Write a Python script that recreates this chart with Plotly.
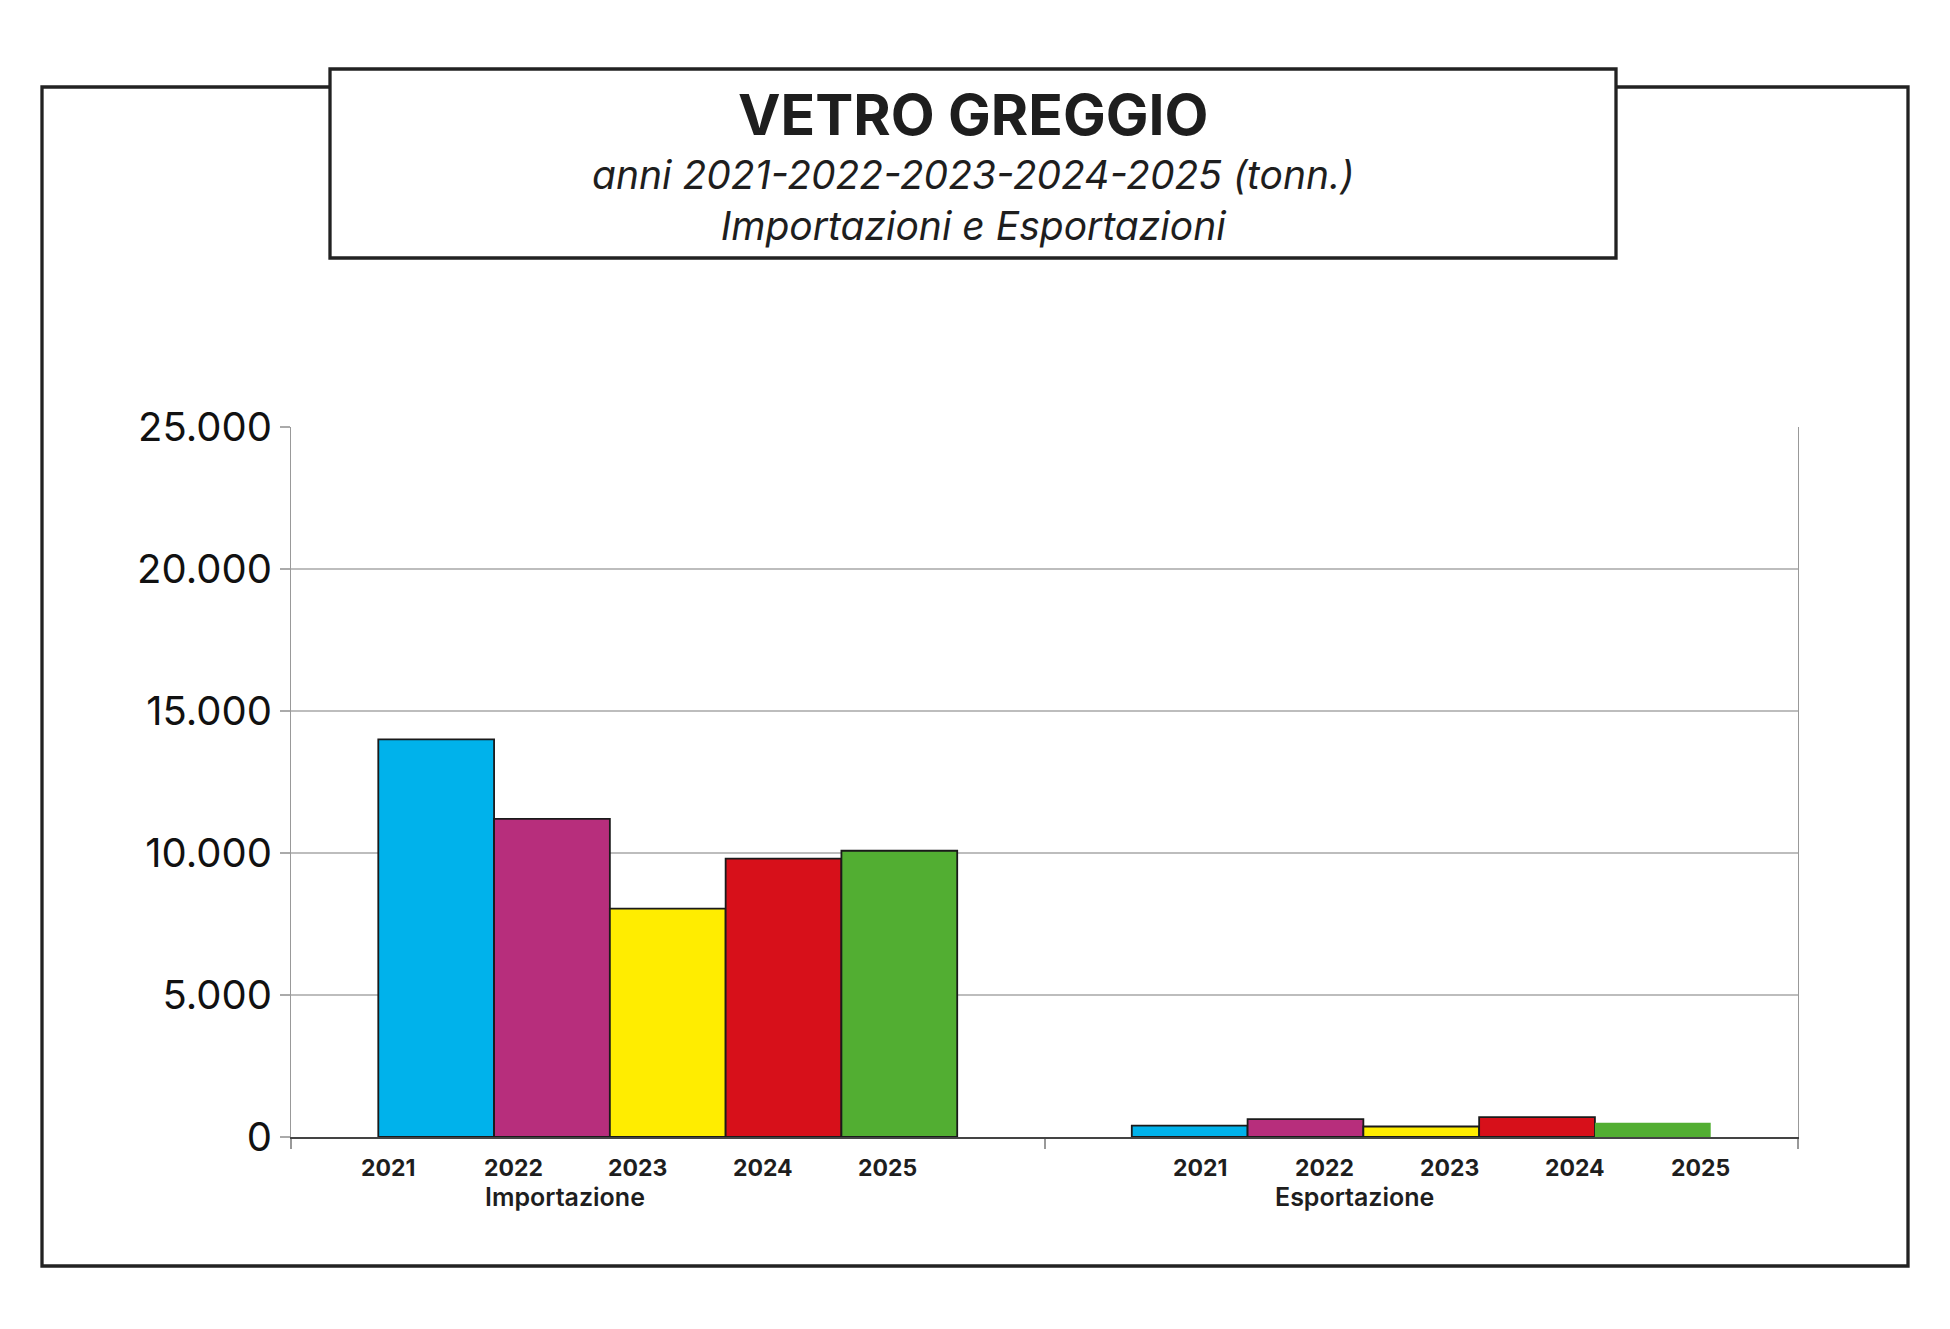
import plotly.graph_objects as go

# ── data ─────────────────────────────────────────────
GROUPS = ["Importazione", "Esportazione"]
YEARS = ["2021", "2022", "2023", "2024", "2025"]
IMPORT_T = [14000, 11200, 8040, 9800, 10080]
EXPORT_T = [400, 630, 370, 700, 500]
Y_TICKS = [0, 5000, 10000, 15000, 20000, 25000]

TITLE = "VETRO GREGGIO"
SUBTITLE = ["anni 2021-2022-2023-2024-2025 (tonn.)", "Importazioni e Esportazioni"]
COLORS = ["#00B2EB", "#B72E7C", "#FFED00", "#D7101A", "#52AE32"]

# ── page geometry (px, measured on the reference) ────
W, H = 1950, 1329
PAGE_OFF = 8          # browser body margin
PLOT_L, PLOT_R, PLOT_T, PLOT_B = 291, 1798, 427, 1137
ML = PLOT_L - PAGE_OFF
MT = PLOT_T - PAGE_OFF
PW = PLOT_R - PLOT_L
PH = PLOT_B - PLOT_T
MR = W - ML - PW
MB = H - MT - PH
FONT = "Inter, Roboto, sans-serif"


def px(x):
    return (x - PLOT_L) / PW


def py(y):
    return (PLOT_B - y) / PH


def label(x, y, text, size, xref="paper", weight=None, italic=False):
    fig.add_annotation(
        xref=xref, yref="paper", x=x, y=y, text=text, showarrow=False,
        xanchor="center", yanchor="middle",
        font=dict(family=FONT, size=size, color="#1e1e1e",
                  weight=weight, style="italic" if italic else "normal"),
    )


fig = go.Figure()

for i, yr in enumerate(YEARS):
    fig.add_trace(go.Bar(
        x=GROUPS,
        y=[IMPORT_T[i], EXPORT_T[i]],
        name=yr,
        marker=dict(
            color=COLORS[i],
            line=dict(color="#1a1a1a", width=[1.8, 0 if yr == "2025" else 1.8]),
        ),
        hovertemplate=f"{yr}<br>%{{x}}: %{{y:,.0f}} t<extra></extra>",
    ))

# outer frame + title box
fig.add_shape(type="rect", xref="paper", yref="paper",
              x0=px(42), x1=px(1908), y0=py(1266), y1=py(87),
              line=dict(color="#222", width=3.3), layer="below")
fig.add_shape(type="rect", xref="paper", yref="paper",
              x0=px(330), x1=px(1616), y0=py(258), y1=py(69),
              line=dict(color="#222", width=3.3), fillcolor="white", layer="below")

label(px(973), py(115), TITLE, 57, weight=700)
label(px(973), py(200), "<br>".join(SUBTITLE), 39, italic=True)

# year labels under each group (offsets in category units, as in the original)
IMP_OFFS = [-0.371, -0.205, -0.040, 0.126, 0.292]
EXP_OFFS = [-0.294, -0.128, 0.038, 0.204, 0.370]
for g, offs in enumerate([IMP_OFFS, EXP_OFFS]):
    for yr, o in zip(YEARS, offs):
        label(g + o, py(1168), yr, 23, xref="x", weight=700)
label(0 - 0.137, py(1197), GROUPS[0], 25, xref="x", weight=600)
label(1 - 0.089, py(1197), GROUPS[1], 25, xref="x", weight=600)

fig.update_layout(
    width=W, height=H,
    margin=dict(l=ML, r=MR, t=MT, b=MB, autoexpand=False),
    paper_bgcolor="white", plot_bgcolor="white",
    barmode="group", bargap=0.2317, bargroupgap=0,
    showlegend=False,
    separators=",.",
    font=dict(family=FONT, color="#111"),
)
fig.update_xaxes(
    range=[-0.5, 1.5], showticklabels=False,
    tickson="boundaries", ticks="outside", ticklen=10, tickcolor="#999", tickwidth=1.5,
    showline=True, linecolor="#444", linewidth=1.5, showgrid=False,
)
fig.update_yaxes(
    range=[0, 25000], tickvals=Y_TICKS, tickformat=",d",
    ticks="outside", ticklen=10, tickcolor="#aaa", tickwidth=1.5,
    showline=True, linecolor="#999", linewidth=1.2, mirror=True,
    gridcolor="#bdbdbd", gridwidth=1.5, zeroline=False,
    tickfont=dict(family=FONT, size=40, color="#111"),
    ticklabelstandoff=0,
)

fig.write_html("out.html")
